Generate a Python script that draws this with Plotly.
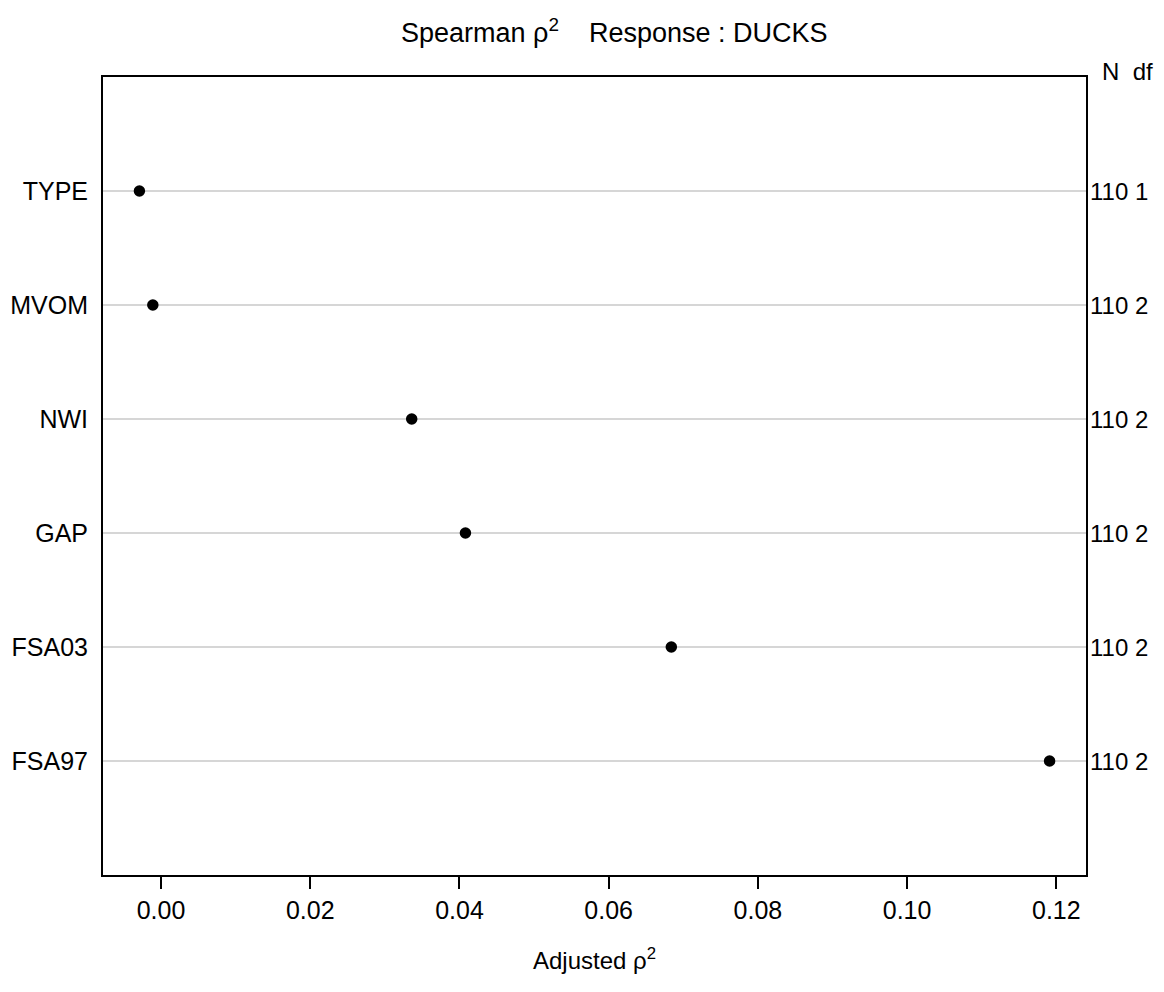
import plotly.graph_objects as go

variables = ["FSA97", "FSA03", "GAP", "NWI", "MVOM", "TYPE"]
rho2 = [0.1191, 0.0684, 0.0408, 0.0336, -0.0011, -0.0029]
n_vals = [110, 110, 110, 110, 110, 110]
df_vals = [2, 2, 2, 2, 2, 1]
positions = [1, 2, 3, 4, 5, 6]
x_ticks = [0.00, 0.02, 0.04, 0.06, 0.08, 0.10, 0.12]

FONT = "Liberation Sans, Arial, sans-serif"
LABEL_SIZE = 25

fig = go.Figure()

# horizontal guide lines
for p in positions:
    fig.add_shape(type="line", xref="paper", yref="y", x0=0, x1=1, y0=p, y1=p,
                  line=dict(color="#c8c8c8", width=1.6), layer="below")

fig.add_trace(go.Scatter(x=rho2, y=positions, mode="markers",
                         marker=dict(color="black", size=11.5),
                         showlegend=False, hoverinfo="x+y"))

# right-side N df labels
for p, n, d in zip(positions, n_vals, df_vals):
    fig.add_annotation(xref="paper", yref="y", x=1, y=p, text=f"{n} {d}",
                       showarrow=False, xanchor="left", yanchor="middle", xshift=2,
                       font=dict(family=FONT, size=24, color="black"))
fig.add_annotation(xref="paper", yref="paper", x=1, y=1, text="N  df",
                   showarrow=False, xanchor="left", yanchor="middle", xshift=14, yshift=6,
                   font=dict(family=FONT, size=24, color="black"))

fig.add_annotation(xref="paper", yref="paper", x=0.5, y=1, yshift=46, xshift=20,
                   text="Spearman ρ<sup>2</sup>    Response : DUCKS",
                   showarrow=False, xanchor="center", yanchor="middle",
                   font=dict(family=FONT, size=27, color="black"))

data_min, data_max = min(rho2), max(rho2)
ext = 0.04 * (data_max - data_min)

fig.update_xaxes(range=[data_min - ext, data_max + ext],
                 tickvals=x_ticks, ticktext=[f"{v:.2f}" for v in x_ticks],
                 ticks="outside", ticklen=12, tickwidth=1.5, tickcolor="black",
                 showline=True, linecolor="black", linewidth=2, mirror=True,
                 showgrid=False, zeroline=False,
                 tickfont=dict(family=FONT, size=LABEL_SIZE, color="black"),
                 title=dict(text="Adjusted ρ<sup>2</sup>", standoff=29,
                            font=dict(family=FONT, size=24, color="black")))
fig.update_yaxes(range=[0, 7], tickvals=positions, ticktext=variables,
                 ticks="", showline=True, linecolor="black", linewidth=2, mirror=True,
                 showgrid=False, zeroline=False, ticklabelstandoff=8,
                 tickfont=dict(family=FONT, size=LABEL_SIZE, color="black"))

fig.update_layout(width=1164, height=992, plot_bgcolor="white", paper_bgcolor="white",
                  margin=dict(l=103, r=78, t=77, b=117, autoexpand=False),
                  font=dict(family=FONT))

fig.write_html("out.html")
